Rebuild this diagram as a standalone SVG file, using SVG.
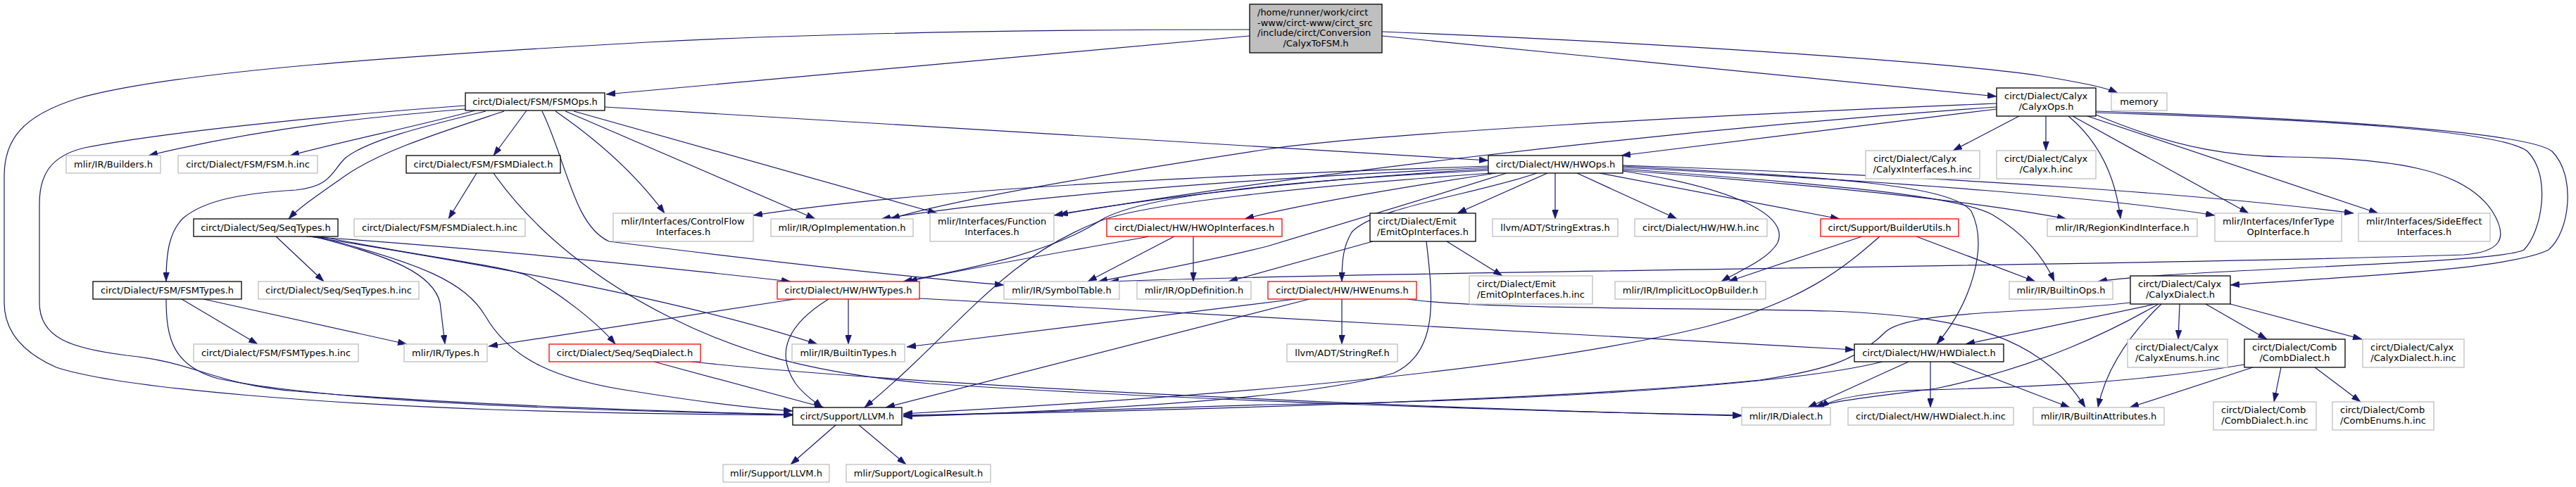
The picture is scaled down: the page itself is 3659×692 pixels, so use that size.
<svg xmlns="http://www.w3.org/2000/svg" width="3659" height="692" viewBox="0 0 3659 692">
<defs>
<style>
.node rect{fill:#fff;stroke:#bfbfbf;stroke-width:1.3}
.blk rect{stroke:#000}
.red rect{stroke:#ff0000}
.top rect{fill:#bfbfbf;stroke:#000}
text{font-family:"DejaVu Sans","Liberation Sans",sans-serif;font-size:13px;fill:#000;text-anchor:middle}
text.l{text-anchor:start}
#edges path{fill:none;stroke:#191970;stroke-width:1.2;marker-end:url(#arr)}
</style>
<marker id="arr" markerUnits="userSpaceOnUse" markerWidth="13" markerHeight="9" refX="13" refY="4.5" orient="auto">
<path d="M0,0 L13,4.5 L0,9 z" fill="#191970" stroke="#191970" stroke-width="0.5"/>
</marker>
</defs>
<rect width="3659" height="692" fill="#fff"/>
<g id="edges">
<path d="M1775,51 L861,134"/>
<path d="M1963,51 L2836,137"/>
<path d="M1963,45 C2400,62 2800,92 2900,108 C2960,118 2990,124 3008,132"/>
<path d="M1775,42 C1450,42 1150,48 920,60 C600,78 250,100 110,140 C30,165 6,200 6,250 L6,430 C6,470 30,500 80,522 C180,555 500,575 700,582 C850,587 1000,589 1126,590"/>
<path d="M661,155 C540,165 380,180 211,221"/>
<path d="M675,157 C590,180 490,200 412,221"/>
<path d="M748,157 L701,221"/>
<path d="M716,158 C620,190 540,215 490,250 C450,278 425,295 410,311"/>
<path d="M690,158 C600,180 520,200 490,225 C470,245 470,265 420,270 C340,275 290,285 260,310 C240,330 236,360 236,400"/>
<path d="M789,158 C850,200 905,250 944,303"/>
<path d="M803,158 L1158,311"/>
<path d="M815,158 L1331,303"/>
<path d="M859,152 L2114,228"/>
<path d="M770,158 C805,230 815,320 865,343 C1000,360 1250,390 1426,405"/>
<path d="M661,150 C450,165 220,190 120,210 C70,222 56,250 56,290 L56,430 C56,480 100,495 180,505 C280,515 300,545 420,556 C650,575 950,585 1126,589"/>
<path d="M677,246 L637,311"/>
<path d="M701,246 C760,330 850,400 950,450 C1050,500 1150,530 1320,545 C1700,570 2200,585 2474,590"/>
<path d="M392,336 L460,400"/>
<path d="M435,336 C650,350 900,375 1123,400"/>
<path d="M440,336 C650,370 950,420 1161,489"/>
<path d="M445,336 C560,365 615,390 625,430 L632,489"/>
<path d="M450,336 C600,375 660,400 690,450 C725,510 790,540 900,556 C1000,572 1070,580 1126,584"/>
<path d="M455,336 C600,365 720,378 750,392 C800,420 850,460 874,489"/>
<path d="M258,425 L366,489"/>
<path d="M289,425 L578,489"/>
<path d="M236,425 C236,480 245,520 310,538 C460,570 800,583 1126,589"/>
<path d="M1129,425 L694,492"/>
<path d="M1205,425 L1205,489"/>
<path d="M1177,425 C1120,460 1100,500 1130,545 C1145,565 1160,572 1168,579"/>
<path d="M1306,424 L2634,497"/>
<path d="M929,514 L1170,579"/>
<path d="M982,514 C1300,548 2000,580 2474,591"/>
<path d="M1187,604 L1123,660"/>
<path d="M1220,604 L1287,660"/>
<path d="M2114,236 C1700,250 1300,270 1070,306"/>
<path d="M2114,238 C1750,255 1450,280 1252,311"/>
<path d="M2114,240 C1900,252 1650,278 1497,306"/>
<path d="M2125,246 C2000,265 1850,290 1768,311"/>
<path d="M2114,242 C1800,258 1620,280 1565,312 C1500,355 1400,378 1283,400"/>
<path d="M2118,246 C1850,265 1620,290 1560,315 C1420,370 1360,470 1228,579"/>
<path d="M2140,246 C2000,290 1900,320 1800,350 C1700,375 1620,388 1560,400"/>
<path d="M2183,246 C2100,275 1950,295 1920,330 C1908,350 1906,370 1906,400"/>
<path d="M2198,246 L2070,303"/>
<path d="M2209,246 L2209,311"/>
<path d="M2240,246 L2382,311"/>
<path d="M2272,246 L2613,311"/>
<path d="M2305,243 C2480,270 2540,310 2525,345 C2510,370 2470,385 2445,400"/>
<path d="M2305,242 C2600,265 2800,285 2935,311"/>
<path d="M2305,238 C2700,258 3000,282 3146,306"/>
<path d="M2305,235 C2800,252 3150,278 3343,303"/>
<path d="M2305,240 C2600,262 2780,278 2830,305 C2880,335 2905,370 2918,400"/>
<path d="M2305,236 C2600,252 2770,262 2800,300 C2825,350 2800,430 2751,489"/>
<path d="M1632,336 C1500,360 1380,380 1290,400"/>
<path d="M1668,336 L1545,400"/>
<path d="M1695,336 L1695,400"/>
<path d="M1950,343 L1745,400"/>
<path d="M2055,343 L2134,392"/>
<path d="M2026,343 C2035,420 2045,500 1980,530 C1850,570 1500,585 1283,592"/>
<path d="M2645,336 L2455,400"/>
<path d="M2670,336 C2620,380 2560,430 2420,465 C2150,530 1700,565 1283,588"/>
<path d="M2722,336 L2891,400"/>
<path d="M1906,425 L1906,489"/>
<path d="M1840,425 L1288,493"/>
<path d="M1860,425 L1258,579"/>
<path d="M1999,425 C2100,440 2400,437 2600,442 C2800,450 2900,480 2962,579"/>
<path d="M2836,155 L2303,221"/>
<path d="M2836,147 C2400,165 1950,190 1800,212 C1550,250 1350,285 1265,311"/>
<path d="M2836,152 C2300,190 1800,255 1504,305"/>
<path d="M2868,165 L2774,214"/>
<path d="M2906,165 L2906,214"/>
<path d="M2938,165 C2980,200 3005,250 3012,311"/>
<path d="M2944,165 L3194,303"/>
<path d="M2965,165 L3378,303"/>
<path d="M2977,163 C3100,215 3180,222 3249,223 C3400,225 3500,240 3540,300 C3565,340 3550,358 3500,362 C3000,378 2000,385 1576,400"/>
<path d="M2977,160 C3300,170 3550,185 3590,215 C3625,250 3610,330 3585,355 C3550,375 3100,382 2980,400"/>
<path d="M2977,158 C3300,168 3590,188 3625,215 C3660,250 3650,330 3620,355 C3560,385 3300,395 3168,405"/>
<path d="M3062,432 L2792,489"/>
<path d="M3066,432 C3000,470 2900,520 2750,552 C2650,565 2600,570 2578,579"/>
<path d="M3070,432 C3020,480 2990,530 2980,579"/>
<path d="M3096,432 L3094,482"/>
<path d="M3133,432 L3220,482"/>
<path d="M3168,432 L3355,482"/>
<path d="M3026,430 C2900,445 2720,440 2680,470 C2640,510 2600,525 2500,540 C2200,570 1600,585 1283,590"/>
<path d="M2742,514 L2742,579"/>
<path d="M2771,514 L2940,579"/>
<path d="M2711,514 L2568,579"/>
<path d="M2674,514 C2550,545 2200,570 1800,575 C1600,580 1400,588 1283,591"/>
<path d="M3188,518 C3000,550 2800,552 2700,555 C2640,560 2600,568 2585,579"/>
<path d="M3200,522 L3025,579"/>
<path d="M3240,522 L3230,571"/>
<path d="M3288,522 L3353,571"/>
</g>
<g id="n-top" class="node top"><rect x="1775" y="6" width="188" height="69"/><text class="l" x="1786" y="21.5">/home/runner/work/circt</text><text class="l" x="1786" y="36.5">-www/circt-www/circt_src</text><text class="l" x="1786" y="51">/include/circt/Conversion</text><text x="1869" y="66">/CalyxToFSM.h</text></g>
<g id="n-fsmops" class="node blk"><rect x="661" y="132" width="198" height="25"/><text x="760" y="149">circt/Dialect/FSM/FSMOps.h</text></g>
<g id="n-calyxops" class="node blk"><rect x="2836" y="125" width="141" height="40"/><text class="l" x="2847" y="141">circt/Dialect/Calyx</text><text x="2906.5" y="155.5">/CalyxOps.h</text></g>
<g id="n-memory" class="node"><rect x="2999" y="132" width="79" height="25"/><text x="3038.5" y="149">memory</text></g>
<g id="n-builders" class="node"><rect x="94" y="221" width="134" height="25"/><text x="161" y="238">mlir/IR/Builders.h</text></g>
<g id="n-fsmhinc" class="node"><rect x="253" y="221" width="198" height="25"/><text x="352" y="238">circt/Dialect/FSM/FSM.h.inc</text></g>
<g id="n-fsmdialect" class="node blk"><rect x="577" y="221" width="219" height="25"/><text x="686.5" y="238">circt/Dialect/FSM/FSMDialect.h</text></g>
<g id="n-hwops" class="node blk"><rect x="2114" y="221" width="191" height="25"/><text x="2209.5" y="238">circt/Dialect/HW/HWOps.h</text></g>
<g id="n-calyxifinc" class="node"><rect x="2650" y="214" width="162" height="40"/><text class="l" x="2661" y="230">circt/Dialect/Calyx</text><text x="2731" y="244.5">/CalyxInterfaces.h.inc</text></g>
<g id="n-calyxhinc" class="node"><rect x="2836" y="214" width="141" height="40"/><text class="l" x="2847" y="230">circt/Dialect/Calyx</text><text x="2906.5" y="244.5">/Calyx.h.inc</text></g>
<g id="n-seqtypes" class="node blk"><rect x="275" y="311" width="205" height="25"/><text x="377.5" y="328">circt/Dialect/Seq/SeqTypes.h</text></g>
<g id="n-fsmdialecthinc" class="node"><rect x="503" y="311" width="243" height="25"/><text x="624.5" y="328">circt/Dialect/FSM/FSMDialect.h.inc</text></g>
<g id="n-controlflow" class="node"><rect x="871" y="303" width="199" height="40"/><text class="l" x="882" y="319">mlir/Interfaces/ControlFlow</text><text x="970.5" y="333.5">Interfaces.h</text></g>
<g id="n-opimpl" class="node"><rect x="1095" y="311" width="202" height="25"/><text x="1196" y="328">mlir/IR/OpImplementation.h</text></g>
<g id="n-funcif" class="node"><rect x="1321" y="303" width="176" height="40"/><text class="l" x="1332" y="319">mlir/Interfaces/Function</text><text x="1409" y="333.5">Interfaces.h</text></g>
<g id="n-hwopif" class="node red"><rect x="1572" y="311" width="249" height="25"/><text x="1696.5" y="328">circt/Dialect/HW/HWOpInterfaces.h</text></g>
<g id="n-emitopif" class="node blk"><rect x="1946" y="303" width="150" height="40"/><text class="l" x="1957" y="319">circt/Dialect/Emit</text><text x="2021" y="333.5">/EmitOpInterfaces.h</text></g>
<g id="n-strext" class="node"><rect x="2120" y="311" width="178" height="25"/><text x="2209" y="328">llvm/ADT/StringExtras.h</text></g>
<g id="n-hwhinc" class="node"><rect x="2322" y="311" width="188" height="25"/><text x="2416" y="328">circt/Dialect/HW/HW.h.inc</text></g>
<g id="n-builderutils" class="node red"><rect x="2586" y="311" width="196" height="25"/><text x="2684" y="328">circt/Support/BuilderUtils.h</text></g>
<g id="n-regionkind" class="node"><rect x="2908" y="311" width="213" height="25"/><text x="3014.5" y="328">mlir/IR/RegionKindInterface.h</text></g>
<g id="n-infertype" class="node"><rect x="3146" y="303" width="180" height="40"/><text class="l" x="3157" y="319">mlir/Interfaces/InferType</text><text x="3236" y="333.5">OpInterface.h</text></g>
<g id="n-sideeffect" class="node"><rect x="3350" y="303" width="187" height="40"/><text class="l" x="3361" y="319">mlir/Interfaces/SideEffect</text><text x="3443.5" y="333.5">Interfaces.h</text></g>
<g id="n-fsmtypes" class="node blk"><rect x="132" y="400" width="211" height="25"/><text x="237.5" y="417">circt/Dialect/FSM/FSMTypes.h</text></g>
<g id="n-seqtypeshinc" class="node"><rect x="367" y="400" width="228" height="25"/><text x="481" y="417">circt/Dialect/Seq/SeqTypes.h.inc</text></g>
<g id="n-hwtypes" class="node red"><rect x="1104" y="400" width="202" height="25"/><text x="1205" y="417">circt/Dialect/HW/HWTypes.h</text></g>
<g id="n-symtab" class="node"><rect x="1426" y="400" width="164" height="25"/><text x="1508" y="417">mlir/IR/SymbolTable.h</text></g>
<g id="n-opdef" class="node"><rect x="1615" y="400" width="162" height="25"/><text x="1696" y="417">mlir/IR/OpDefinition.h</text></g>
<g id="n-hwenums" class="node red"><rect x="1801" y="400" width="211" height="25"/><text x="1906.5" y="417">circt/Dialect/HW/HWEnums.h</text></g>
<g id="n-emitopifinc" class="node"><rect x="2087" y="392" width="175" height="40"/><text class="l" x="2098" y="408">circt/Dialect/Emit</text><text x="2174.5" y="422.5">/EmitOpInterfaces.h.inc</text></g>
<g id="n-implicitloc" class="node"><rect x="2294" y="400" width="214" height="25"/><text x="2401" y="417">mlir/IR/ImplicitLocOpBuilder.h</text></g>
<g id="n-builtinops" class="node"><rect x="2854" y="400" width="147" height="25"/><text x="2927.5" y="417">mlir/IR/BuiltinOps.h</text></g>
<g id="n-calyxdialect" class="node blk"><rect x="3026" y="392" width="142" height="40"/><text class="l" x="3037" y="408">circt/Dialect/Calyx</text><text x="3097" y="422.5">/CalyxDialect.h</text></g>
<g id="n-fsmtypeshinc" class="node"><rect x="275" y="489" width="234" height="25"/><text x="392" y="506">circt/Dialect/FSM/FSMTypes.h.inc</text></g>
<g id="n-types" class="node"><rect x="574" y="489" width="118" height="25"/><text x="633" y="506">mlir/IR/Types.h</text></g>
<g id="n-seqdialect" class="node red"><rect x="780" y="489" width="215" height="25"/><text x="887.5" y="506">circt/Dialect/Seq/SeqDialect.h</text></g>
<g id="n-builtintypes" class="node"><rect x="1125" y="489" width="160" height="25"/><text x="1205" y="506">mlir/IR/BuiltinTypes.h</text></g>
<g id="n-stringref" class="node"><rect x="1828" y="489" width="157" height="25"/><text x="1906.5" y="506">llvm/ADT/StringRef.h</text></g>
<g id="n-hwdialect" class="node blk"><rect x="2634" y="489" width="212" height="25"/><text x="2740" y="506">circt/Dialect/HW/HWDialect.h</text></g>
<g id="n-calyxenumsinc" class="node"><rect x="3022" y="482" width="142" height="40"/><text class="l" x="3033" y="498">circt/Dialect/Calyx</text><text x="3093" y="512.5">/CalyxEnums.h.inc</text></g>
<g id="n-combdialect" class="node blk"><rect x="3188" y="482" width="143" height="40"/><text class="l" x="3199" y="498">circt/Dialect/Comb</text><text x="3259.5" y="512.5">/CombDialect.h</text></g>
<g id="n-calyxdialectinc" class="node"><rect x="3356" y="482" width="144" height="40"/><text class="l" x="3367" y="498">circt/Dialect/Calyx</text><text x="3428" y="512.5">/CalyxDialect.h.inc</text></g>
<g id="n-llvm" class="node blk"><rect x="1126" y="579" width="155" height="25"/><text x="1203.5" y="596">circt/Support/LLVM.h</text></g>
<g id="n-dialect" class="node"><rect x="2474" y="579" width="126" height="25"/><text x="2537" y="596">mlir/IR/Dialect.h</text></g>
<g id="n-hwdialectinc" class="node"><rect x="2625" y="579" width="235" height="25"/><text x="2742.5" y="596">circt/Dialect/HW/HWDialect.h.inc</text></g>
<g id="n-builtinattrs" class="node"><rect x="2888" y="579" width="186" height="25"/><text x="2981" y="596">mlir/IR/BuiltinAttributes.h</text></g>
<g id="n-combdialectinc" class="node"><rect x="3144" y="571" width="146" height="40"/><text class="l" x="3155" y="587">circt/Dialect/Comb</text><text x="3217" y="601.5">/CombDialect.h.inc</text></g>
<g id="n-combenumsinc" class="node"><rect x="3313" y="571" width="144" height="40"/><text class="l" x="3324" y="587">circt/Dialect/Comb</text><text x="3385" y="601.5">/CombEnums.h.inc</text></g>
<g id="n-mlirllvm" class="node"><rect x="1027" y="660" width="151" height="25"/><text x="1102.5" y="677">mlir/Support/LLVM.h</text></g>
<g id="n-logicalresult" class="node"><rect x="1202" y="660" width="205" height="25"/><text x="1304.5" y="677">mlir/Support/LogicalResult.h</text></g>
</svg>
